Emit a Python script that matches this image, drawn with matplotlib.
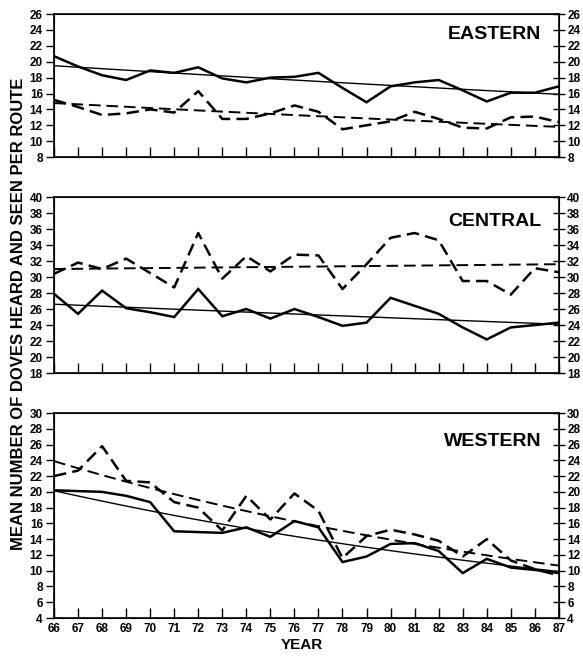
import numpy as np
import matplotlib
matplotlib.use("Agg")
import matplotlib.pyplot as plt

plt.rcParams["font.family"] = ["Liberation Sans", "DejaVu Sans"]
plt.rcParams["font.weight"] = "bold"

years = list(range(66, 88))

eastern_solid = [20.7, 19.4, 18.3, 17.7, 18.9, 18.6, 19.3, 17.9, 17.4, 18.0, 18.1,
                 18.6, 16.7, 14.9, 16.9, 17.4, 17.7, 16.4, 15.0, 16.1, 16.1, 16.9]
eastern_dashed = [15.2, 14.3, 13.3, 13.5, 14.0, 13.6, 16.3, 12.8, 12.8, 13.5, 14.5,
                  13.7, 11.5, 12.0, 12.5, 13.7, 12.8, 11.7, 11.6, 13.0, 13.1, 12.4]

central_solid = [27.9, 25.4, 28.3, 26.1, 25.6, 25.0, 28.5, 25.1, 26.0, 24.8, 26.0,
                 25.0, 23.9, 24.3, 27.4, 26.4, 25.4, 23.7, 22.2, 23.7, 24.0, 24.3]
central_dashed = [30.4, 31.8, 31.0, 32.3, 30.5, 28.7, 35.5, 29.8, 32.6, 30.7, 32.8,
                  32.7, 28.5, 31.6, 34.9, 35.5, 34.6, 29.5, 29.5, 27.8, 31.1, 30.6]

western_solid = [20.2, 20.1, 20.0, 19.5, 18.7, 15.0, 14.9, 14.8, 15.5, 14.3, 16.3,
                 15.5, 11.1, 11.8, 13.4, 13.5, 12.5, 9.7, 11.5, 10.4, 10.1, 9.7]
western_dashed = [22.0, 22.7, 25.8, 21.4, 21.2, 18.7, 18.0, 15.1, 19.5, 16.5, 19.8,
                  17.6, 11.6, 14.4, 15.2, 14.6, 13.8, 11.8, 14.0, 11.3, 10.2, 9.4]

# trend lines, value in 1966 and in 1987
eastern_trend_solid = [19.5, 15.9]
eastern_trend_dashed = [14.8, 11.8]
central_trend_solid = [26.6, 24.1]
central_trend_dashed = [31.0, 31.6]
western_trend_solid = [20.15, 9.9]
western_trend_dashed = [23.9, 10.65]

panels = [
    ("EASTERN", eastern_solid, eastern_dashed, eastern_trend_solid, eastern_trend_dashed, (8, 26)),
    ("CENTRAL", central_solid, central_dashed, central_trend_solid, central_trend_dashed, (18, 40)),
    ("WESTERN", western_solid, western_dashed, western_trend_solid, western_trend_dashed, (4, 30)),
]

# axes boxes in figure fractions [left, bottom, width, height]
boxes = [
    [0.0926, 0.762, 0.866, 0.2167],
    [0.0926, 0.4348, 0.866, 0.2667],
    [0.0926, 0.0636, 0.866, 0.3106],
]


def trend_curve(ends):
    # exponential trend between the two end values
    x = np.linspace(years[0], years[-1], 60)
    return x, np.geomspace(ends[0], ends[1], 60)


fig = plt.figure(figsize=(5.83, 6.6), dpi=100)

for i, (name, solid, dashed, tr_s, tr_d, ylim) in enumerate(panels):
    ax = fig.add_axes(boxes[i])
    ax.plot(years, solid, color="black", lw=1.8, solid_joinstyle="miter")
    ax.plot(years, dashed, color="black", lw=1.8, dashes=(5, 2.5))
    tx, ty = trend_curve(tr_s)
    ax.plot(tx, ty, color="black", lw=1.0)
    tx, ty = trend_curve(tr_d)
    ax.plot(tx, ty, color="black", lw=1.4, dashes=(6, 3))

    ax.set_xlim(66, 87)
    ax.set_ylim(*ylim)
    ax.set_yticks(np.arange(ylim[0], ylim[1] + 1, 2))
    ax.set_xticks(years)
    ax.tick_params(axis="y", direction="out", length=6, width=1, labelsize=8.5, pad=2)
    ax.tick_params(axis="x", direction="in", length=7, width=1, labelsize=8.5, top=False)
    for sp in ax.spines.values():
        sp.set_linewidth(1.2)
    if i < 2:
        ax.set_xticklabels([])
    else:
        ax.set_xticklabels([str(y) for y in years])

    ax2 = ax.twinx()
    ax2.set_ylim(*ylim)
    ax2.set_yticks(np.arange(ylim[0], ylim[1] + 1, 2))
    ax2.tick_params(axis="y", direction="inout", length=8, width=1, labelsize=8.5, pad=2)

    ax.text(0.965, 0.86, name, transform=ax.transAxes, ha="right", va="center",
            fontsize=14, fontweight="bold")

fig.text(0.032, 0.524, "MEAN NUMBER OF DOVES HEARD AND SEEN PER ROUTE", rotation=90,
         ha="center", va="center", fontsize=12, fontweight="bold")
fig.text(0.518, 0.023, "YEAR", ha="center", va="center", fontsize=11, fontweight="bold")

fig.savefig("out.png", dpi=100)
